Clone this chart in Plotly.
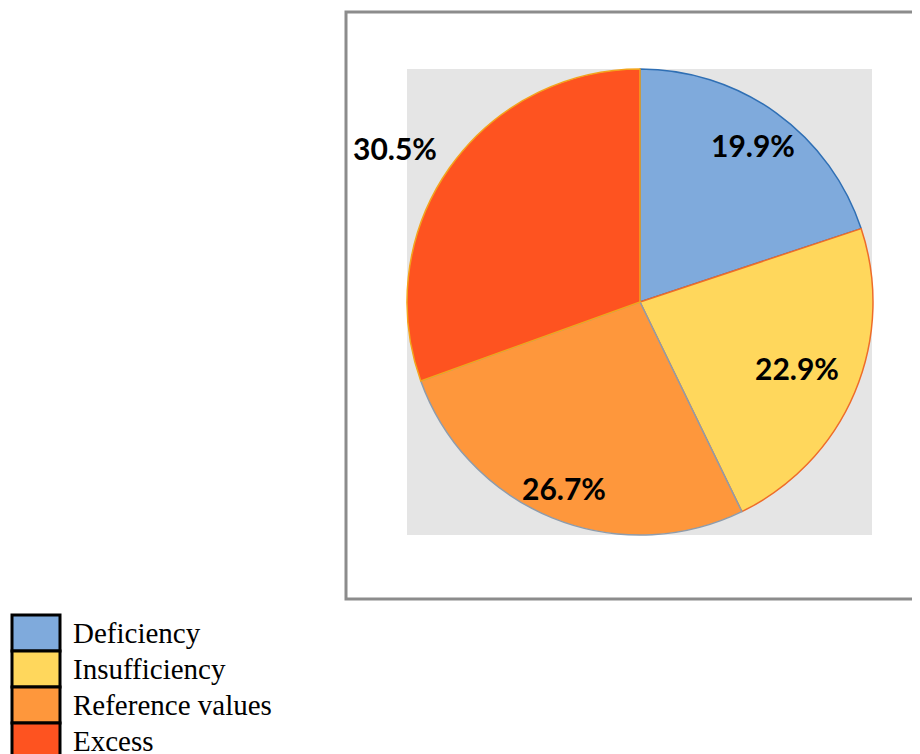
import math
import plotly.graph_objects as go

categories = ["Deficiency", "Insufficiency", "Reference values", "Excess"]
values = [19.9, 22.9, 26.7, 30.5]
value_labels = ["19.9%", "22.9%", "26.7%", "30.5%"]

fill_colors = ["#7faadc", "#ffd75c", "#fe973c", "#fe5320"]
edge_colors = ["#2f6fb4", "#ee6c2a", "#8e9cac", "#f3a41c"]

# label placement (style): radial distance as fraction of radius, angle tweak in degrees
label_radius = [0.83, 0.73, 0.86, 1.24]
label_angle_shift = [0, 0, 0, -3]

OFF = 8  # page body margin
W, H = 920 - OFF, 754 - OFF

def px(x):
    return (x - OFF) / W

def py(y):
    return 1 - (y - OFF) / H

# pie box (pixels in the page)
PX0, PX1, PY0, PY1 = 407, 873, 69, 535
CX, CY, R = (PX0 + PX1) / 2, (PY0 + PY1) / 2, (PX1 - PX0) / 2

fig = go.Figure()
fig.add_trace(go.Pie(
    labels=categories,
    values=values,
    textinfo="none",
    sort=False,
    direction="clockwise",
    rotation=0,
    marker=dict(colors=fill_colors, line=dict(color=edge_colors, width=1.5)),
    domain=dict(x=[px(PX0), px(PX1)], y=[py(PY1), py(PY0)]),
    showlegend=False,
    hoverinfo="label+percent",
))

shapes = [
    dict(type="rect", xref="paper", yref="paper", x0=px(346), x1=px(960), y0=py(599), y1=py(12),
         line=dict(color="#8c8c8c", width=3), fillcolor="white", layer="below"),
    dict(type="rect", xref="paper", yref="paper", x0=px(407), x1=px(872), y0=py(535), y1=py(69),
         line=dict(width=0), fillcolor="#e5e5e5", layer="below"),
]
annotations = []

total = sum(values)
cum = 0.0
for v, lab, rf, da in zip(values, value_labels, label_radius, label_angle_shift):
    mid = (cum + v / 2) / total * 360 + da
    cum += v
    a = math.radians(mid)
    x = CX + rf * R * math.sin(a)
    y = CY - rf * R * math.cos(a)
    annotations.append(dict(xref="paper", yref="paper", x=px(x), y=py(y), text=lab,
                            showarrow=False, xanchor="center", yanchor="middle",
                            font=dict(family="Lato", size=30, color="black", weight="bold")))

row_h = 36
for i, (name, col) in enumerate(zip(categories, fill_colors)):
    top = 615 + i * row_h
    shapes.append(dict(type="rect", xref="paper", yref="paper",
                       x0=px(12), x1=px(60), y0=py(top + row_h), y1=py(top),
                       line=dict(color="black", width=3), fillcolor=col))
    annotations.append(dict(xref="paper", yref="paper", x=px(71), y=py(top + row_h / 2),
                            text=name, showarrow=False, xanchor="left", yanchor="middle",
                            font=dict(family="Liberation Serif", size=29, color="black")))

fig.update_layout(
    width=W, height=H, autosize=False,
    margin=dict(l=0, r=0, t=0, b=0),
    paper_bgcolor="white",
    shapes=shapes,
    annotations=annotations,
)

fig.write_html("out.html")
